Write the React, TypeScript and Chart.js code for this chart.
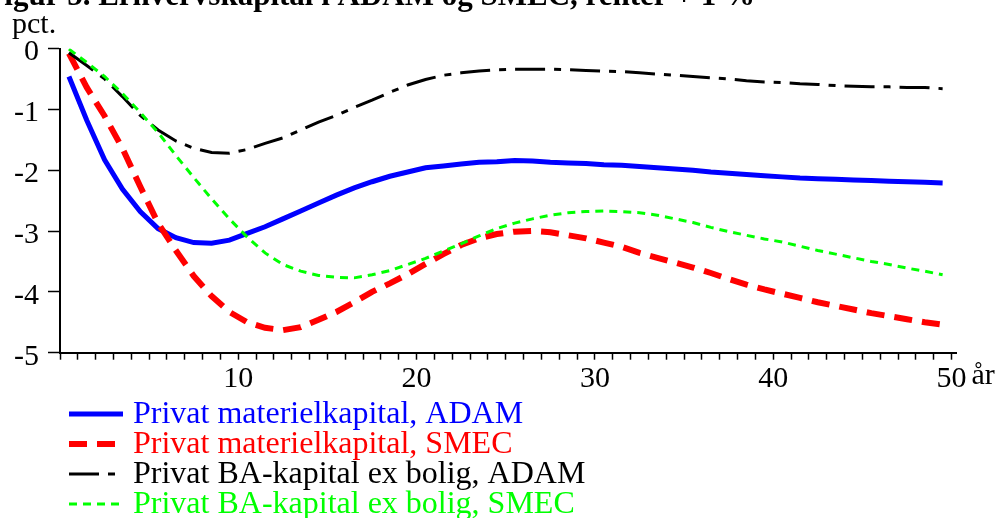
import React, { useEffect, useRef } from "react";
import { Chart, registerables } from "chart.js";

Chart.register(...registerables);

const TITLE = "Figur 5. Erhvervskapital i ADAM og SMEC, renter + 1 %";
const Y_UNIT = "pct.";
const X_UNIT = "år";

const years = [
  1, 2, 3, 4, 5, 6, 7, 8, 9, 10, 11, 12, 13, 14, 15, 16, 17, 18, 19, 20, 21, 22, 23, 24, 25,
  26, 27, 28, 29, 30, 31, 32, 33, 34, 35, 36, 37, 38, 39, 40, 41, 42, 43, 44, 45, 46, 47, 48, 49, 50,
];

const materielADAM = [
  -0.46, -1.18, -1.83, -2.31, -2.68, -2.96, -3.11, -3.19, -3.2, -3.15,
  -3.04, -2.93, -2.8, -2.67, -2.54, -2.41, -2.29, -2.19, -2.1, -2.03,
  -1.96, -1.93, -1.9, -1.87, -1.86, -1.84, -1.85, -1.87, -1.88, -1.89,
  -1.91, -1.92, -1.94, -1.96, -1.98, -2.0, -2.03, -2.05, -2.07, -2.09,
  -2.11, -2.13, -2.14, -2.15, -2.16, -2.17, -2.18, -2.19, -2.2, -2.21,
];

const materielSMEC = [
  -0.08, -0.64, -1.11, -1.64, -2.27, -2.87, -3.32, -3.74, -4.07, -4.33,
  -4.5, -4.59, -4.63, -4.58, -4.46, -4.33, -4.17, -4.0, -3.86, -3.71,
  -3.54, -3.38, -3.23, -3.12, -3.05, -3.01, -3.0, -3.02, -3.07, -3.12,
  -3.19, -3.26, -3.36, -3.44, -3.52, -3.6, -3.69, -3.79, -3.88, -3.96,
  -4.03, -4.1, -4.17, -4.23, -4.29, -4.35, -4.4, -4.45, -4.5, -4.54,
];

const baADAM = [
  -0.07, -0.28, -0.5, -0.79, -1.1, -1.34, -1.52, -1.64, -1.71, -1.72,
  -1.66, -1.56, -1.47, -1.34, -1.21, -1.1, -0.97, -0.85, -0.72, -0.6,
  -0.51, -0.44, -0.4, -0.37, -0.35, -0.34, -0.34, -0.34, -0.35, -0.36,
  -0.37, -0.38, -0.4, -0.42, -0.44, -0.46, -0.48, -0.5, -0.53, -0.55,
  -0.56, -0.58, -0.59, -0.61, -0.62, -0.63, -0.63, -0.64, -0.64, -0.66,
];

const baSMEC = [
  -0.01, -0.23, -0.46, -0.74, -1.05, -1.38, -1.76, -2.12, -2.47, -2.8,
  -3.1, -3.36, -3.55, -3.66, -3.73, -3.76, -3.77, -3.72, -3.65, -3.55,
  -3.45, -3.33, -3.21, -3.08, -2.96, -2.87, -2.8, -2.74, -2.7, -2.68,
  -2.67, -2.68, -2.7, -2.74, -2.8, -2.86, -2.94, -3.01, -3.07, -3.13,
  -3.18, -3.25, -3.32, -3.38, -3.44, -3.5, -3.55, -3.61, -3.66, -3.72,
];

const seriesLabels = [
  "Privat materielkapital, ADAM",
  "Privat materielkapital, SMEC",
  "Privat BA-kapital ex bolig, ADAM",
  "Privat BA-kapital ex bolig, SMEC",
];

const xTickLabels = [10, 20, 30, 40, 50];
const xTickMarks = [0, ...years];
const yTicks = [0, -1, -2, -3, -4, -5];

const FONT = "'Liberation Serif', 'Times New Roman', serif";

const styles = [
  { color: "#0000ff", width: 5, dash: [] as number[] },
  { color: "#ff0000", width: 6, dash: [18, 10] },
  { color: "#000000", width: 3, dash: [30, 9, 7, 9] },
  { color: "#00ff00", width: 3, dash: [8, 6] },
];

const overlayPlugin = {
  id: "overlay",
  afterDraw(chart: any) {
    const ctx = chart.ctx as CanvasRenderingContext2D;
    ctx.save();
    // title (cut at top like the reference)
    ctx.fillStyle = "#000";
    ctx.font = `bold 31px ${FONT}`;
    ctx.textAlign = "right";
    ctx.textBaseline = "alphabetic";
    ctx.fillText(TITLE, 755, 5);
    // unit labels
    ctx.font = `30px ${FONT}`;
    ctx.textAlign = "left";
    ctx.fillText(Y_UNIT, 12, 33);
    const xs = chart.scales.x;
    ctx.font = `30px ${FONT}`;
    ctx.textBaseline = "top";
    ctx.fillText(X_UNIT, xs.getPixelForValue(50) + 20, xs.top + 7 + 1);
    // legend
    const rows = [414, 444, 474, 504];
    ctx.font = `32px ${FONT}`;
    ctx.textBaseline = "middle";
    seriesLabels.forEach((lbl, i) => {
      const st = styles[i];
      ctx.beginPath();
      ctx.setLineDash(st.dash);
      ctx.lineWidth = st.width;
      ctx.strokeStyle = st.color;
      ctx.moveTo(69, rows[i]);
      ctx.lineTo(123, rows[i]);
      ctx.stroke();
      ctx.setLineDash([]);
      ctx.fillStyle = st.color;
      ctx.fillText(lbl, 133, rows[i] + 1);
    });
    ctx.restore();
  },
};

export default function App() {
  const ref = useRef<HTMLCanvasElement>(null);

  useEffect(() => {
    if (!ref.current) return;
    const seriesValues = [materielADAM, materielSMEC, baADAM, baSMEC];
    const chart = new Chart(ref.current, {
      type: "line",
      data: {
        datasets: seriesValues.map((vals, i) => ({
          label: seriesLabels[i],
          data: years.map((yr, j) => ({ x: yr - 0.5, y: vals[j] })),
          borderColor: styles[i].color,
          borderWidth: styles[i].width,
          borderDash: styles[i].dash,
          pointRadius: 0,
          tension: 0,
          fill: false,
          order: 4 - i,
        })),
      },
      options: {
        responsive: false,
        animation: false,
        events: [],
        layout: { padding: { top: 48.5, bottom: 518 - 352.7 - 45, left: 0, right: 51 } },
        plugins: {
          legend: { display: false },
          title: { display: false },
          tooltip: { enabled: false },
        },
        scales: {
          x: {
            type: "linear",
            min: 0,
            max: 50.25,
            afterBuildTicks: (s: any) => {
              s.ticks = xTickMarks.map((v) => ({ value: v }));
            },
            afterFit: (s: any) => {
              s.height = 45;
            },
            grid: {
              display: true,
              drawOnChartArea: false,
              drawTicks: true,
              tickLength: 7,
              tickWidth: 1.5,
              tickColor: "#000",
            },
            border: { display: true, color: "#000", width: 2 },
            ticks: {
              autoSkip: false,
              maxRotation: 0,
              padding: 1,
              color: "#000",
              font: { family: FONT, size: 30 },
              callback: (v: any) => (xTickLabels.includes(Number(v)) ? String(v) : ""),
            },
          },
          y: {
            type: "linear",
            min: -5,
            max: 0,
            afterBuildTicks: (s: any) => {
              s.ticks = yTicks.map((v) => ({ value: v }));
            },
            afterFit: (s: any) => {
              s.width = 60;
            },
            grid: {
              display: true,
              drawOnChartArea: false,
              drawTicks: true,
              tickLength: 12,
              tickWidth: 1.5,
              tickColor: "#000",
            },
            border: { display: true, color: "#000", width: 2 },
            ticks: {
              padding: 9,
              labelOffset: 4,
              color: "#000",
              font: { family: FONT, size: 30 },
              callback: (v: any) => String(v),
            },
          },
        },
      },
      plugins: [overlayPlugin],
    });
    return () => chart.destroy();
  }, []);

  return (
    <div style={{ position: "absolute", left: 0, top: 0, width: 1007, height: 518, background: "#fff" }}>
      <canvas ref={ref} width={1007} height={518} style={{ display: "block" }} />
    </div>
  );
}
